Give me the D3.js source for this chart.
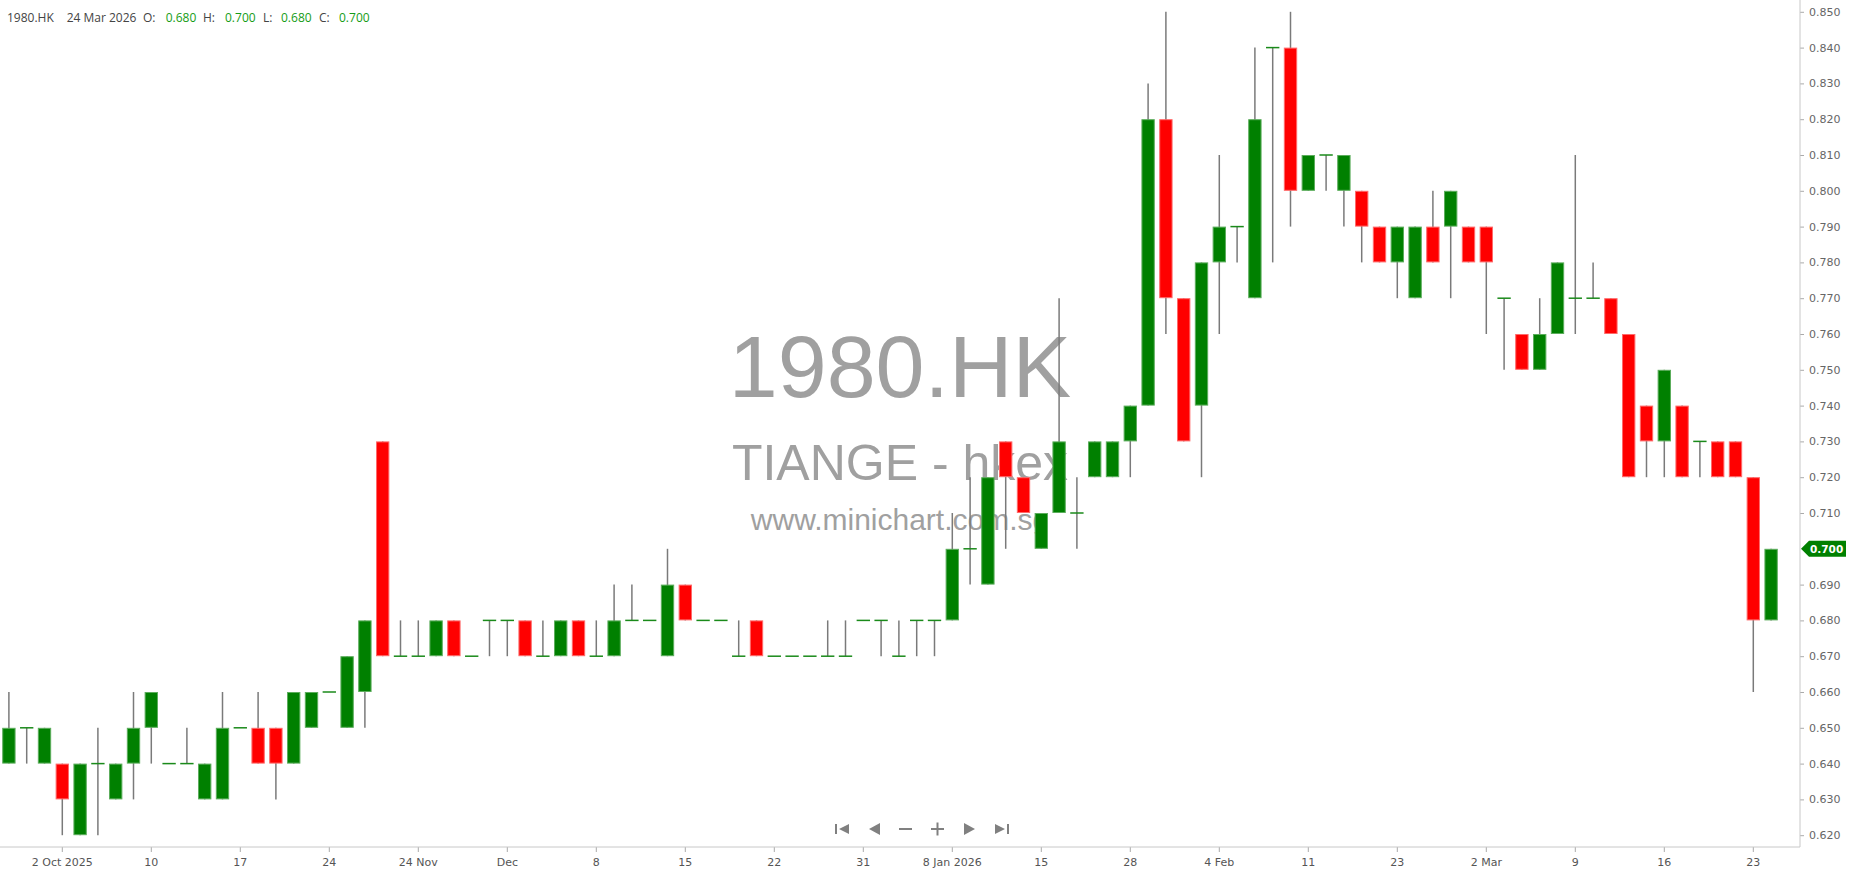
<!DOCTYPE html>
<html>
<head>
<meta charset="utf-8">
<script src="https://cdn.jsdelivr.net/npm/d3@7"></script>
<style>
  body { margin: 0; background: #fff; overflow: hidden; }
  svg { display: block; }
</style>
</head>
<body>
<svg id="chart" width="1850" height="874"></svg>
<script>
// daily candles, oldest first (last one = 24 Mar 2026)
const openP  = [0.64,0.65,0.64,0.64,0.62,0.64,0.63,0.64,0.65,0.64, 0.64,0.63,0.63,0.65,0.65,0.65,0.64,0.65,0.66,0.65,
                0.66,0.73,0.67,0.67,0.67,0.68,0.67,0.68,0.68,0.68, 0.67,0.67,0.68,0.67,0.67,0.68,0.68,0.67,0.69,0.68,
                0.68,0.67,0.68,0.67,0.67,0.67,0.67,0.67,0.68,0.68, 0.67,0.68,0.68,0.68,0.70,0.69,0.73,0.72,0.70,0.71,
                0.71,0.72,0.72,0.73,0.74,0.82,0.77,0.74,0.78,0.79, 0.77,0.84,0.84,0.80,0.81,0.80,0.80,0.79,0.78,0.77,
                0.79,0.79,0.79,0.79,0.77,0.76,0.75,0.76,0.77,0.77, 0.77,0.76,0.74,0.73,0.74,0.73,0.73,0.73,0.72,0.68];
const highP  = [0.66,0.65,0.65,0.64,0.64,0.65,0.64,0.66,0.66,0.64, 0.65,0.64,0.66,0.65,0.66,0.65,0.66,0.66,0.66,0.67,
                0.68,0.73,0.68,0.68,0.68,0.68,0.67,0.68,0.68,0.68, 0.68,0.68,0.68,0.68,0.69,0.69,0.68,0.70,0.69,0.68,
                0.68,0.68,0.68,0.67,0.67,0.67,0.68,0.68,0.68,0.68, 0.68,0.68,0.68,0.71,0.72,0.72,0.73,0.72,0.71,0.77,
                0.72,0.73,0.73,0.74,0.83,0.85,0.77,0.78,0.81,0.79, 0.84,0.84,0.85,0.81,0.81,0.81,0.80,0.79,0.79,0.79,
                0.80,0.80,0.79,0.79,0.77,0.76,0.77,0.78,0.81,0.78, 0.77,0.76,0.74,0.75,0.74,0.73,0.73,0.73,0.72,0.70];
const lowP   = [0.64,0.64,0.64,0.62,0.62,0.62,0.63,0.63,0.64,0.64, 0.64,0.63,0.63,0.65,0.64,0.63,0.64,0.65,0.66,0.65,
                0.65,0.67,0.67,0.67,0.67,0.67,0.67,0.67,0.67,0.67, 0.67,0.67,0.67,0.67,0.67,0.68,0.68,0.67,0.68,0.68,
                0.68,0.67,0.67,0.67,0.67,0.67,0.67,0.67,0.68,0.67, 0.67,0.67,0.67,0.68,0.69,0.69,0.70,0.71,0.70,0.71,
                0.70,0.72,0.72,0.72,0.74,0.76,0.73,0.72,0.76,0.78, 0.77,0.78,0.79,0.80,0.80,0.79,0.78,0.78,0.77,0.77,
                0.78,0.77,0.78,0.76,0.75,0.75,0.75,0.76,0.76,0.77, 0.76,0.72,0.72,0.72,0.72,0.72,0.72,0.72,0.66,0.68];
const closeP = [0.65,0.65,0.65,0.63,0.64,0.64,0.64,0.65,0.66,0.64, 0.64,0.64,0.65,0.65,0.64,0.64,0.66,0.66,0.66,0.67,
                0.68,0.67,0.67,0.67,0.68,0.67,0.67,0.68,0.68,0.67, 0.67,0.68,0.67,0.67,0.68,0.68,0.68,0.69,0.68,0.68,
                0.68,0.67,0.67,0.67,0.67,0.67,0.67,0.67,0.68,0.68, 0.67,0.68,0.68,0.70,0.70,0.72,0.72,0.71,0.71,0.73,
                0.71,0.73,0.73,0.74,0.82,0.77,0.73,0.78,0.79,0.79, 0.82,0.84,0.80,0.81,0.81,0.81,0.79,0.78,0.79,0.79,
                0.78,0.80,0.78,0.78,0.77,0.75,0.76,0.78,0.77,0.77, 0.76,0.72,0.73,0.75,0.72,0.73,0.72,0.72,0.68,0.70];

// x axis labels sit on these candles
const tickIdx    = [3, 8, 13, 18, 23, 28, 33, 38, 43, 48, 53, 58, 63, 68, 73, 78, 83, 88, 93, 98];
const tickLabels = ["2 Oct 2025","10","17","24","24 Nov","Dec","8","15","22","31",
                    "8 Jan 2026","15","28","4 Feb","11","23","2 Mar","9","16","23"];
const priceTicks = [0.62,0.63,0.64,0.65,0.66,0.67,0.68,0.69,0.70,0.71,0.72,0.73,
                    0.74,0.75,0.76,0.77,0.78,0.79,0.80,0.81,0.82,0.83,0.84,0.85];

const ticker = "1980.HK";
const lastDate = "24 Mar 2026";
const watermark = ["1980.HK", "TIANGE - hkex", "www.minichart.com.sg"];

drawChart();

function drawChart() {
  const svg = d3.select("#chart");
  const plotRight = 1800, axisY = 847;
  const n = openP.length;
  const fmt = d3.format(".3f");
  const last = closeP[n - 1];

  const x = d3.scaleBand()
    .domain(d3.range(n))
    .range([0, 1780])
    .paddingInner(0.25)
    .paddingOuter(0.125);
  const y = d3.scaleLinear()
    .domain([0.62, 0.85])
    .range([835.2, 11.8]);
  const bw = x.bandwidth();

  // watermark behind the candles
  const wm = svg.append("g")
    .attr("fill", "#a0a0a0")
    .attr("text-anchor", "middle")
    .style("font-family", "'Liberation Sans', Arial, sans-serif");
  wm.append("text").attr("x", 900).attr("y", 397).style("font-size", "88px").text(watermark[0]);
  wm.append("text").attr("x", 900).attr("y", 480).style("font-size", "50px").text(watermark[1]);
  wm.append("text").attr("x", 900).attr("y", 530).style("font-size", "30px").text(watermark[2]);

  // candles
  const c = svg.append("g").selectAll("g")
    .data(d3.range(n))
    .enter()
    .append("g");

  c.filter(i => highP[i] > lowP[i])
    .append("line")
    .attr("x1", i => x(i) + bw / 2)
    .attr("x2", i => x(i) + bw / 2)
    .attr("y1", i => y(highP[i]))
    .attr("y2", i => y(lowP[i]))
    .attr("stroke", "#7a7a7a")
    .attr("stroke-width", 1.5);

  c.filter(i => openP[i] !== closeP[i])
    .append("rect")
    .attr("x", i => x(i) + 0.5)
    .attr("width", bw - 1)
    .attr("y", i => y(Math.max(openP[i], closeP[i])) + 0.5)
    .attr("height", i => Math.abs(y(openP[i]) - y(closeP[i])) - 1)
    .attr("fill", i => closeP[i] > openP[i] ? "#008000" : "#ff0000")
    .attr("stroke", i => closeP[i] > openP[i] ? "#5cad5c" : "#ff6a6a")
    .attr("stroke-width", 1);

  c.filter(i => openP[i] === closeP[i])
    .append("line")
    .attr("x1", i => x(i))
    .attr("x2", i => x(i) + bw)
    .attr("y1", i => y(closeP[i]))
    .attr("y2", i => y(closeP[i]))
    .attr("stroke", "#1a8a1a")
    .attr("stroke-width", 1.5);

  // right price axis (label under the last price tag is hidden by it)
  const ya = svg.append("g")
    .attr("transform", "translate(" + plotRight + ",0)")
    .call(d3.axisRight(y).tickValues(priceTicks).tickFormat(fmt).tickSize(4).tickPadding(5));
  ya.select(".domain").remove();
  ya.selectAll(".tick line").attr("stroke", "#aaa");
  ya.selectAll(".tick").filter(d => fmt(d) === fmt(last)).remove();
  ya.selectAll("text")
    .attr("fill", "#666")
    .style("font-family", "'DejaVu Sans', sans-serif")
    .style("font-size", "11px");

  // bottom date axis
  const xa = svg.append("g")
    .attr("transform", "translate(0," + axisY + ")")
    .call(d3.axisBottom(x).tickValues(tickIdx).tickFormat((d, i) => tickLabels[i]).tickSize(5).tickPadding(6));
  xa.select(".domain").remove();
  xa.selectAll(".tick line").attr("stroke", "#aaa");
  xa.selectAll("text")
    .attr("fill", "#555")
    .style("font-family", "'DejaVu Sans', sans-serif")
    .style("font-size", "11px");

  svg.append("line")
    .attr("x1", plotRight).attr("x2", plotRight)
    .attr("y1", 0).attr("y2", axisY)
    .attr("stroke", "#c8c8c8");
  svg.append("line")
    .attr("x1", 0).attr("x2", plotRight)
    .attr("y1", axisY).attr("y2", axisY)
    .attr("stroke", "#c8c8c8");

  // last price tag
  const ly = y(last);
  svg.append("path")
    .attr("d", "M" + (plotRight + 1) + "," + ly + "L" + (plotRight + 9) + "," + (ly - 8) +
               "H1846V" + (ly + 8) + "H" + (plotRight + 9) + "Z")
    .attr("fill", "#008000");
  svg.append("text")
    .attr("x", plotRight + 10)
    .attr("y", ly + 4)
    .attr("fill", "#fff")
    .style("font-family", "'DejaVu Sans', sans-serif")
    .style("font-size", "10.5px")
    .style("font-weight", "bold")
    .text(fmt(last));

  // header line
  const head = svg.append("text")
    .attr("y", 22)
    .style("font-family", "'Open Sans', sans-serif")
    .style("font-size", "12px");
  const parts = [
    [ticker, 7, "#444"], [lastDate, 66.7, "#444"],
    ["O:", 143, "#444"], [fmt(openP[n - 1]), 165.7, "#169c16"],
    ["H:", 203, "#444"], [fmt(highP[n - 1]), 225, "#169c16"],
    ["L:", 263, "#444"], [fmt(lowP[n - 1]), 281, "#169c16"],
    ["C:", 319, "#444"], [fmt(closeP[n - 1]), 339, "#169c16"]
  ];
  head.selectAll("tspan")
    .data(parts)
    .enter()
    .append("tspan")
    .attr("x", d => d[1])
    .attr("fill", d => d[2])
    .text(d => d[0]);

  // navigation buttons under the plot
  const nav = svg.append("g").attr("fill", "#808080").attr("stroke", "#808080");
  const cy = 829;
  nav.append("path").attr("stroke", "none")
    .attr("d", "M835," + (cy - 5) + "h2v10h-2Z M849," + (cy - 5) + "v10l-10,-5Z");
  nav.append("path").attr("stroke", "none")
    .attr("d", "M880," + (cy - 6) + "v12l-11,-6Z");
  nav.append("line").attr("x1", 899).attr("x2", 912).attr("y1", cy).attr("y2", cy).attr("stroke-width", 2);
  nav.append("line").attr("x1", 931).attr("x2", 944).attr("y1", cy).attr("y2", cy).attr("stroke-width", 2);
  nav.append("line").attr("x1", 937.5).attr("x2", 937.5).attr("y1", cy - 6.5).attr("y2", cy + 6.5).attr("stroke-width", 2);
  nav.append("path").attr("stroke", "none")
    .attr("d", "M964," + (cy - 6) + "v12l11,-6Z");
  nav.append("path").attr("stroke", "none")
    .attr("d", "M995," + (cy - 5) + "v10l10,-5Z M1007," + (cy - 5) + "h2v10h-2Z");
}
</script>
</body>
</html>
